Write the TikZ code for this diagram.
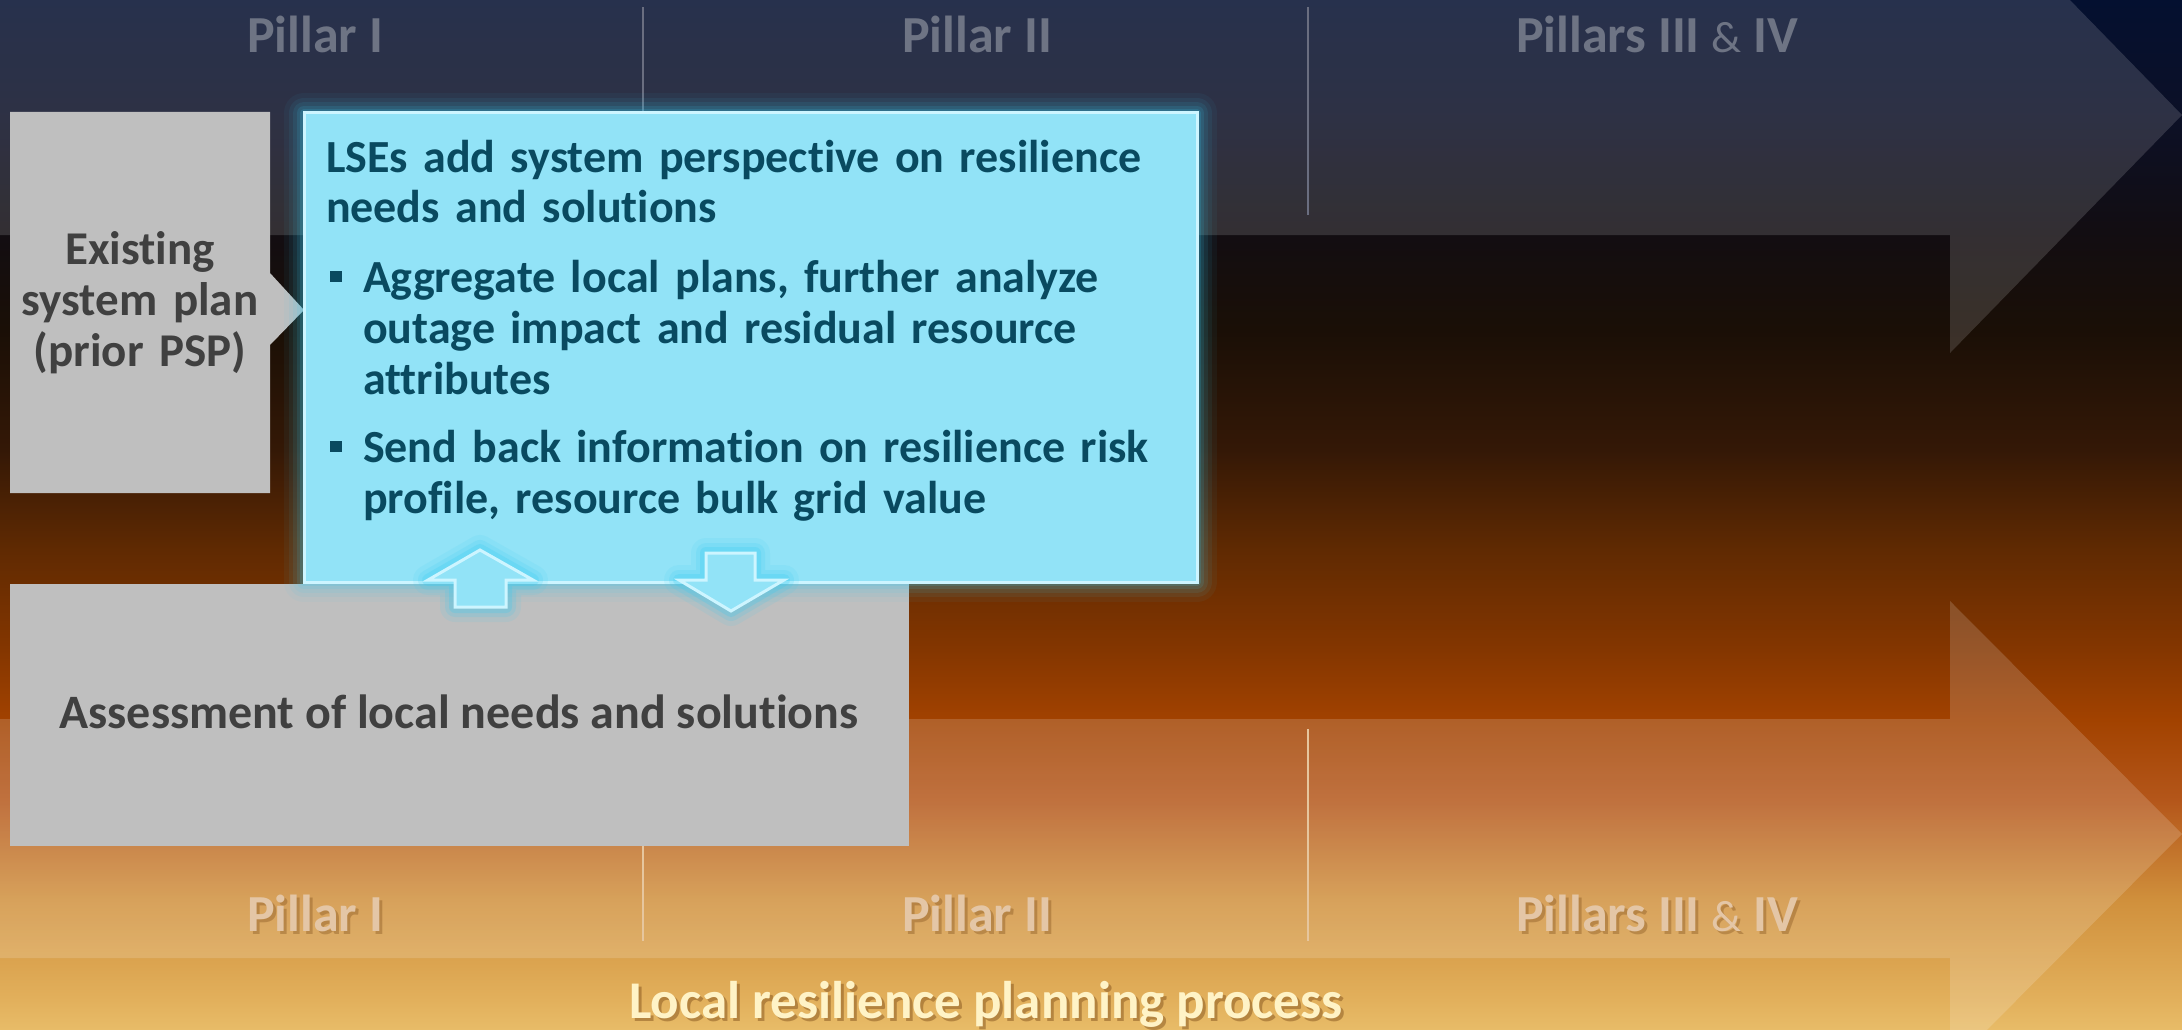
\documentclass[tikz,border=0pt]{standalone}
\usepackage{fontspec}
\setmainfont{Carlito}[Ligatures={NoCommon}]
\usetikzlibrary{calc}

\definecolor{c0}{HTML}{041030}
\definecolor{c120}{HTML}{0C1026}
\definecolor{c230}{HTML}{120D12}
\definecolor{c330}{HTML}{1A0F06}
\definecolor{c450}{HTML}{341806}
\definecolor{c550}{HTML}{602A02}
\definecolor{c650}{HTML}{843600}
\definecolor{c720}{HTML}{A24200}
\definecolor{c800}{HTML}{B4561A}
\definecolor{c900}{HTML}{D0903C}
\definecolor{c1000}{HTML}{E2B05C}
\definecolor{c1030}{HTML}{E8BC68}

\definecolor{graybox}{HTML}{BFBFBF}
\definecolor{graytext}{HTML}{404040}
\definecolor{lsefill}{HTML}{92E3F7}
\definecolor{lseborder}{HTML}{CDF5FF}
\definecolor{lsetextc}{HTML}{094A60}
\definecolor{glowc}{HTML}{38CCF2}
\definecolor{pillartopc}{HTML}{6E7484}
\definecolor{pillarbotc}{HTML}{E4C6A6}
\definecolor{dividertop}{HTML}{6A6E80}
\definecolor{dividerbot}{HTML}{E6C69E}
\definecolor{localc}{HTML}{FFF3C6}
\definecolor{shadowc}{HTML}{7A4A18}

\pgfdeclareverticalshading{bgshade}{100bp}{color(0bp)=(c1030); color(25bp)=(c1030); color(26.46bp)=(c1000); color(31.31bp)=(c900); color(36.17bp)=(c800); color(40.05bp)=(c720); color(43.45bp)=(c650); color(48.30bp)=(c550); color(53.16bp)=(c450); color(58.98bp)=(c330); color(63.83bp)=(c230); color(69.17bp)=(c120); color(75bp)=(c0); color(100bp)=(c0)}

\tikzset{
  every node/.style={inner sep=0pt, outer sep=0pt},
  pillarfont/.style={font=\fontsize{52}{60}\selectfont\bfseries, anchor=base},
  pillartop/.style={pillarfont, text=pillartopc},
  pillarbot/.style={pillarfont, text=pillarbotc},
  pillarshadow/.style={pillarfont, text=shadowc, text opacity=0.35},
  divtop/.style={draw=dividertop, line width=2pt},
  divbot/.style={draw=dividerbot, line width=2pt},
  grayshape/.style={fill=graybox},
  graylabel/.style={font=\fontsize{47}{51}\selectfont\bfseries, text=graytext},
  lsebox/.style={fill=lsefill, draw=lseborder, line width=3pt},
  lsetext/.style={font=\fontsize{46}{51}\selectfont\bfseries, text=lsetextc},
  glowline/.style={draw=glowc, line join=round},
  flowarrow/.style={fill=lsefill, draw=lseborder, line width=3pt, line join=miter},
  bandtop/.style={fill=white, fill opacity=0.14},
  bandbot/.style={fill=white, fill opacity=0.16},
}

\newcommand{\amp}{{\fontsize{44}{50}\selectfont\mdseries\&}}
\newcommand{\sqbullet}{\makebox[37pt][l]{\hspace*{4pt}\raisebox{10pt}{\rule{12pt}{11pt}}}}

\begin{document}
\begin{tikzpicture}[x=1pt,y=-1pt]
\useasboundingbox (0,0) rectangle (2182,1030);
\clip (0,0) rectangle (2182,1030);

% background
\shade[shading=bgshade] (0,0) rectangle (2182,1030);

% big translucent arrows
\fill[bandtop] (0,-5) -- (1950,-5) -- (1950,-123) -- (2182,115) -- (1950,353) -- (1950,235) -- (0,235) -- cycle;
\fill[bandbot] (0,719) -- (1950,719) -- (1950,601) -- (2182,834) -- (1950,1067) -- (1950,958) -- (0,958) -- cycle;

% dividers
\coordinate (dt1a) at (643,7);  \coordinate (dt1b) at (643,215);
\coordinate (dt2a) at (1308,7); \coordinate (dt2b) at (1308,215);
\coordinate (db1a) at (643,729);  \coordinate (db1b) at (643,941);
\coordinate (db2a) at (1308,729); \coordinate (db2b) at (1308,941);
\draw[divtop] (dt1a) -- (dt1b);
\draw[divtop] (dt2a) -- (dt2b);
\draw[divbot] (db1a) -- (db1b);
\draw[divbot] (db2a) -- (db2b);

% pillar labels top
\node[pillartop] (pt1) at (315,53) {Pillar I};
\node[pillartop] (pt2) at (977,53) {Pillar II};
\node[pillartop] (pt3) at (1657,53) {Pillars III \amp{} IV};

% pillar labels bottom
\node[pillarshadow] (pb1s) at (318,934) {Pillar I};
\node[pillarshadow] (pb2s) at (980,934) {Pillar II};
\node[pillarshadow] (pb3s) at (1660,934) {Pillars III \amp{} IV};
\node[pillarbot] (pb1) at (315,931) {Pillar I};
\node[pillarbot] (pb2) at (977,931) {Pillar II};
\node[pillarbot] (pb3) at (1657,931) {Pillars III \amp{} IV};

% gray box: existing system plan
\fill[grayshape] (10,112) -- (270,112) -- (270,273) -- (304,310) -- (270,345) -- (270,493) -- (10,493) -- cycle;
\node[graylabel, anchor=base, text width=260pt, align=center] (existing) at (140,264)
  {Existing\\system plan\\(prior PSP)};

% gray box: assessment
\fill[grayshape] (10,584) rectangle (909,846);
\node[graylabel, font=\fontsize{48}{52}\selectfont\bfseries, anchor=base] (assess) at (459,728) {Assessment of local needs and solutions};

% glow of blue box
\foreach \w/\o in {40/0.05, 30/0.07, 22/0.09, 14/0.12, 8/0.16} {
  \draw[glowline, line width=\w pt, draw opacity=\o] (304,113) rectangle (1197,582);
}
\node[lsebox, anchor=north west, minimum width=893pt, minimum height=469pt] (lse) at (304,113) {};

\node[lsetext, anchor=base west, text width=880pt, align=left] (lsetext) at (326,172)
 {LSEs add system perspective on resilience\\
  needs and solutions\\[18pt]
  \sqbullet Aggregate local plans, further analyze\\
  \hspace*{37pt}outage impact and residual resource\\
  \hspace*{37pt}attributes\\[17pt]
  \sqbullet Send back information on resilience risk\\
  \hspace*{37pt}profile, resource bulk grid value};

% up / down arrows with glow
\foreach \w/\o in {30/0.10, 20/0.16, 12/0.24} {
  \draw[glowline, line width=\w pt, draw opacity=\o]
    (455,607) -- (455,580) -- (428,580) -- (480,550) -- (533,580) -- (506,580) -- (506,607) -- cycle;
  \draw[glowline, line width=\w pt, draw opacity=\o]
    (706,553) -- (755,553) -- (755,580) -- (784,580) -- (731,611) -- (679,580) -- (706,580) -- cycle;
}
\draw[flowarrow] (455,607) -- (455,580) -- (428,580) -- (480,550) -- (533,580) -- (506,580) -- (506,607) -- cycle;
\draw[flowarrow] (706,553) -- (755,553) -- (755,580) -- (784,580) -- (731,611) -- (679,580) -- (706,580) -- cycle;

% bottom title
\node[font=\fontsize{53}{60}\selectfont\bfseries, text=shadowc, text opacity=0.45, anchor=base] (locals) at (989,1021) {Local resilience planning process};
\node[font=\fontsize{53}{60}\selectfont\bfseries, text=localc, anchor=base] (local) at (986,1018) {Local resilience planning process};
\end{tikzpicture}
\end{document}
